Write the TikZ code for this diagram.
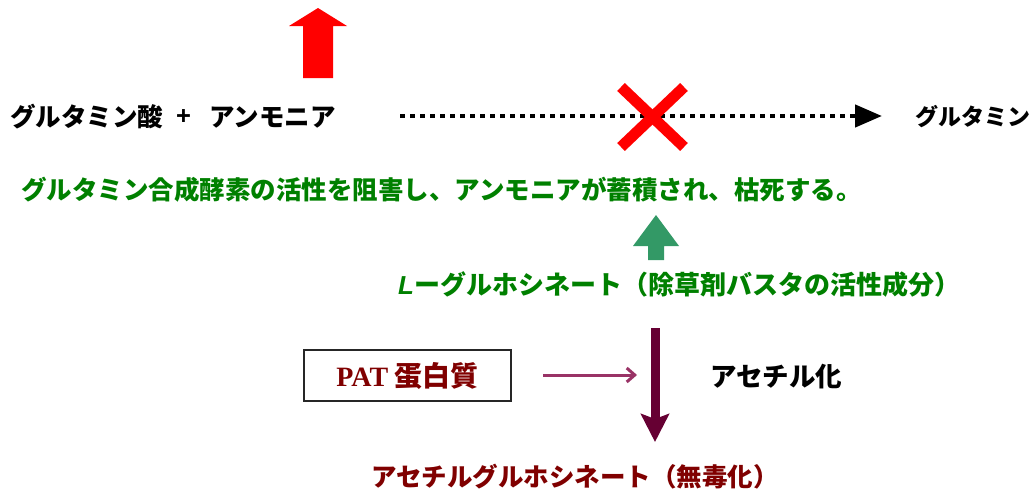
\documentclass[tikz,border=0pt]{standalone}
\usepackage{fontspec}
\setmainfont{Noto Sans CJK JP}
\newfontfamily\latinserif{Liberation Serif}
\newfontfamily\latinsans{Liberation Sans}
\usetikzlibrary{arrows.meta}
\definecolor{txtgreen}{RGB}{0,128,0}
\definecolor{arrgreen}{RGB}{51,153,102}
\definecolor{maroontxt}{RGB}{128,0,0}
\definecolor{downarr}{RGB}{102,0,51}
\definecolor{thinarr}{RGB}{153,51,102}
\tikzset{
  lbl/.style={anchor=west, inner sep=0pt, font=\fontsize{25.5}{30}\selectfont\bfseries},
}
\begin{document}
\begin{tikzpicture}[x=1pt,y=-1pt]
\useasboundingbox (0,0) rectangle (1036,493);
% red up arrow
\fill[red] (318,8) -- (347,26) -- (333,26) -- (333,78) -- (303,78) -- (303,26) -- (289,26) -- cycle;
% row 1
\node[lbl] (glu) at (10,117) {グルタミン酸};
\node[lbl] (plus) at (176,117) {\latinsans +};
\node[lbl] (amm) at (209,117) {アンモニア};
\node[lbl, font=\fontsize{23}{28}\selectfont\bfseries] (glm) at (915,117) {グルタミン};
\coordinate (ds) at (400,116);
\coordinate (de) at (882,116);
\draw[line width=4.5pt, dash pattern=on 5pt off 5pt, -{Triangle[length=27pt,width=22pt]}] (ds) -- (de);
% red cross
\draw[red, line width=11pt] (621,87) -- (684,147);
\draw[red, line width=11pt] (684,87) -- (621,147);
% green text
\node[lbl, txtgreen] (inh) at (21,190) {グルタミン合成酵素の活性を阻害し、アンモニアが蓄積され、枯死する。};
% green up arrow
\fill[arrgreen] (656,215) -- (679,246) -- (664,246) -- (664,260) -- (648,260) -- (648,246) -- (633,246) -- cycle;
% L-glufosinate
\node[lbl, txtgreen, font=\fontsize{26}{30}\selectfont\bfseries] (lglu) at (398,285) {{\latinsans\bfseries\itshape L}ーグルホシネート（除草剤バスタの活性成分）};
% PAT box
\node[draw=black!85, line width=2pt, minimum width=207pt, minimum height=51pt, inner sep=0pt, text=maroontxt, font=\fontsize{28}{32}\selectfont\bfseries] (pat) at (407.5,375.5) {{\latinserif\bfseries PAT} 蛋白質};
\coordinate (ts) at (543,375);
\coordinate (te) at (637,375);
\draw[thinarr, line width=3pt, -{Straight Barb[length=8pt,width=14pt]}] (ts) -- (te);
% down arrow
\coordinate (as) at (655,328);
\coordinate (ae) at (655,442);
\draw[downarr, line width=9pt, -{Stealth[length=28pt,width=28pt,inset=5pt]}] (as) -- (ae);
\node[lbl, font=\fontsize{26.5}{30}\selectfont\bfseries] (acet) at (710,377) {アセチル化};
% bottom
\node[lbl, maroontxt] (prod) at (371,477) {アセチルグルホシネート（無毒化）};
\end{tikzpicture}
\end{document}
